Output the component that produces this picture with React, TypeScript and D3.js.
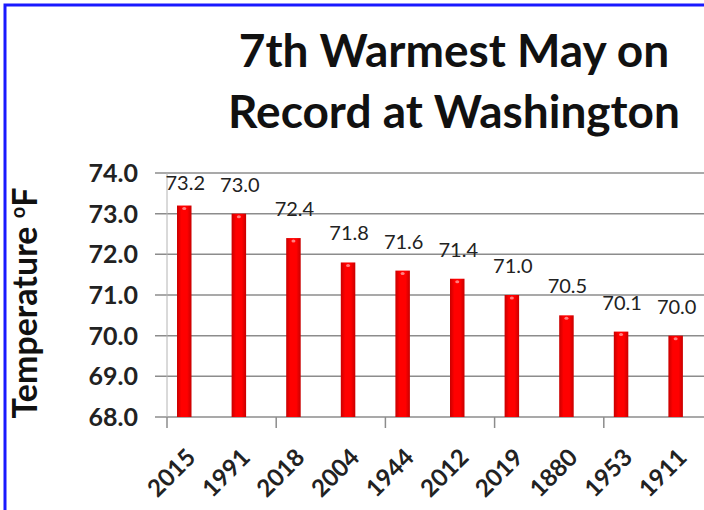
import React from "react";
import * as d3 from "d3";

const years = ["2015", "1991", "2018", "2004", "1944", "2012", "2019", "1880", "1953", "1911"];
const temps = [73.2, 73.0, 72.4, 71.8, 71.6, 71.4, 71.0, 70.5, 70.1, 70.0];
const yTicks = [68, 69, 70, 71, 72, 73, 74];
const titleLines = ["7th Warmest May on", "Record at Washington"];

const W = 704;
const H = 510;
const plotLeft = 167;
const plotTop = 173;
const plotBottom = 417;
const step = 54.6;
const FONT = "Lato, 'Open Sans', sans-serif";

export default function App() {
  const x = d3
    .scaleBand<string>()
    .domain(years)
    .range([plotLeft, plotLeft + step * years.length])
    .padding(0);
  const y = d3.scaleLinear().domain([68, 74]).range([plotBottom, plotTop]);

  const barOffset = 10;
  const barW = 14.5;
  const tickCats = years.filter((_, i) => i % 2 === 0);

  return (
    <svg
      width={W}
      height={H}
      style={{ position: "absolute", left: 0, top: 0, display: "block", background: "#fff" }}
    >
      <defs>
        <linearGradient id="barGrad" x1="0" x2="1" y1="0" y2="0">
          <stop offset="0%" stopColor="#c80000" />
          <stop offset="30%" stopColor="#ff0000" />
          <stop offset="70%" stopColor="#ff0000" />
          <stop offset="100%" stopColor="#c80000" />
        </linearGradient>
      </defs>
      {/* blue frame */}
      <rect x={5} y={5} width={W + 20} height={H + 20} fill="none" stroke="#1a1aff" strokeWidth={3} />

      {/* title */}
      {titleLines.map((t, i) => (
        <text
          key={t}
          x={454}
          y={67 + i * 61}
          textAnchor="middle"
          fontFamily={FONT}
          fontWeight={700}
          fontSize={46}
          fill="#111"
        >
          {t}
        </text>
      ))}

      {/* gridlines */}
      {yTicks.map((t) => (
        <line
          key={t}
          x1={plotLeft - 12}
          x2={W}
          y1={y(t)}
          y2={y(t)}
          stroke="#8c8c8c"
          strokeWidth={1.5}
        />
      ))}
      {/* y axis line */}
      <line x1={plotLeft} x2={plotLeft} y1={plotTop} y2={plotBottom} stroke="#b4b4b4" strokeWidth={1} />

      {/* y tick labels */}
      {yTicks.map((t) => (
        <text
          key={t}
          x={138}
          y={y(t)}
          dy="0.36em"
          textAnchor="end"
          fontFamily={FONT}
          fontWeight={700}
          fontSize={25}
          fill="#222"
        >
          {t.toFixed(1)}
        </text>
      ))}

      {/* x ticks */}
      {tickCats.map((c) => (
        <line
          key={c}
          x1={x(c)!}
          x2={x(c)!}
          y1={plotBottom}
          y2={plotBottom + 11}
          stroke="#8c8c8c"
          strokeWidth={1.5}
        />
      ))}

      {/* bars */}
      {years.map((c, i) => (
        <g key={c}>
          <rect
            x={x(c)! + barOffset}
            y={y(temps[i])}
            width={barW}
            height={plotBottom - y(temps[i])}
            fill="url(#barGrad)"
          />
          <ellipse
            cx={x(c)! + barOffset + barW / 2}
            cy={y(temps[i]) + 3}
            rx={2}
            ry={1.5}
            fill="#ff8080"
          />
        </g>
      ))}

      {/* data labels */}
      {years.map((c, i) => (
        <text
          key={c}
          x={x(c)! + barOffset + barW / 2 + 1}
          y={Math.max(y(temps[i]) - 22, plotTop + 17)}
          textAnchor="middle"
          fontFamily={FONT}
          fontSize={20}
          fill="#222"
        >
          {temps[i].toFixed(1)}
        </text>
      ))}

      {/* x labels */}
      {years.map((c) => (
        <text
          key={c}
          transform={`translate(${x(c)! + 30},${459}) rotate(-45)`}
          textAnchor="end"
          fontFamily={FONT}
          fontWeight={700}
          fontSize={24}
          fill="#222"
        >
          {c}
        </text>
      ))}

      {/* y axis title */}
      <text
        transform={`translate(37,303) rotate(-90)`}
        textAnchor="middle"
        fontFamily={FONT}
        fontWeight={700}
        fontSize={34}
        fill="#111"
      >
        Temperature{" "}
        <tspan fontSize={20} dy={-12}>
          o
        </tspan>
        <tspan dy={12}>F</tspan>
      </text>
    </svg>
  );
}
